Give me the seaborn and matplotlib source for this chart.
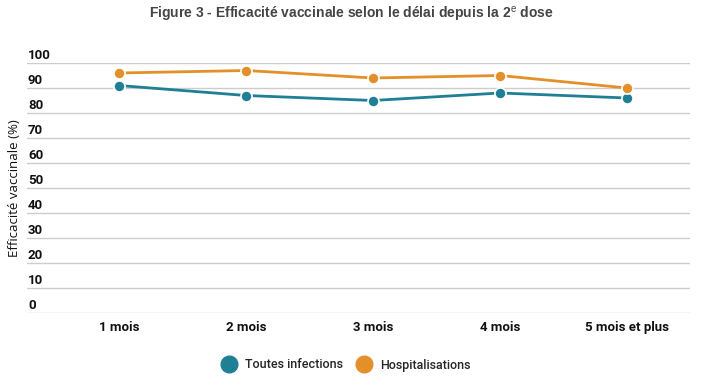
import matplotlib
matplotlib.use("Agg")
import matplotlib.pyplot as plt
import seaborn as sns
import pandas as pd
from matplotlib.lines import Line2D
from matplotlib import transforms

categories = ["1 mois", "2 mois", "3 mois", "4 mois", "5 mois et plus"]
toutes_infections = [91, 87, 85, 88, 86]
hospitalisations = [96, 97, 94, 95, 90]
series_names = ["Toutes infections", "Hospitalisations"]
y_ticks = [0, 10, 20, 30, 40, 50, 60, 70, 80, 90, 100]
colors = ["#1f7f94", "#e3902a"]

df = pd.DataFrame({
    "cat": categories * 2,
    "val": toutes_infections + hospitalisations,
    "serie": [series_names[0]] * len(categories) + [series_names[1]] * len(categories),
})

sns.set_theme(style="white")
plt.rcParams["font.family"] = ["Roboto", "DejaVu Sans"]
plt.rcParams["mathtext.fontset"] = "custom"
plt.rcParams["mathtext.rm"] = "Liberation Sans"
plt.rcParams["mathtext.it"] = "Liberation Sans"
plt.rcParams["mathtext.bf"] = "Liberation Sans:bold"

fig = plt.figure(figsize=(7.07, 3.86), dpi=100)
W, H = 707, 386
left, right, top, bottom = 27, 690, 63, 313
ax = fig.add_axes([left / W, 1 - bottom / H, (right - left) / W, (bottom - top) / H])

sns.lineplot(data=df, x="cat", y="val", hue="serie", palette=colors, marker="o",
             markersize=8, markeredgecolor="white", markeredgewidth=1.2,
             linewidth=2, ax=ax, legend=False, sort=False)

ax.set_ylim(0, 100)
ax.set_xlim(-0.724, 4.496)
ax.set_yticks(y_ticks)
ax.yaxis.grid(True, color="#cccccc", linewidth=1)
ax.set_axisbelow(True)
for s in ax.spines.values():
    s.set_visible(False)
ax.tick_params(axis="y", length=0, labelleft=False)
ax.tick_params(axis="x", length=0, pad=6)
ax.set_xticks(range(len(categories)))
ax.set_xticklabels(categories, fontsize=9.5, fontweight="bold", color="#111111")
ax.set_xlabel("")
ax.set_ylabel("")

trans = ax.get_yaxis_transform() + transforms.ScaledTranslation(1 / 100, 4 / 100, fig.dpi_scale_trans)
for t in y_ticks:
    ax.text(0, t, str(t), transform=trans, ha="left", va="baseline",
            fontsize=9.5, fontweight="bold", color="#111111")

fig.text(15 / W, 1 - 188 / H, "Efficacité vaccinale (%)", rotation=90, ha="center", va="center",
         fontsize=9.5, family=["Open Sans", "DejaVu Sans"], color="#111111")

fig.text(351 / W, 1 - 14 / H, "Figure 3 - Efficacité vaccinale selon le délai depuis la 2$^{\\mathrm{e}}$ dose",
         ha="center", va="center", fontsize=10, fontweight="bold",
         family=["Liberation Sans", "DejaVu Sans"], color="#444444")

handles = [Line2D([], [], linestyle="none", marker="o", markersize=12,
                  markerfacecolor=c, markeredgecolor=c) for c in colors]
fig.legend(handles, series_names, loc="center", bbox_to_anchor=(346 / W, 1 - 365 / H),
           ncol=2, frameon=False, handletextpad=0.7, columnspacing=1.1,
           handlelength=1.2, prop={"family": "Roboto", "weight": "medium", "size": 9})

fig.savefig("out.png", dpi=100)
